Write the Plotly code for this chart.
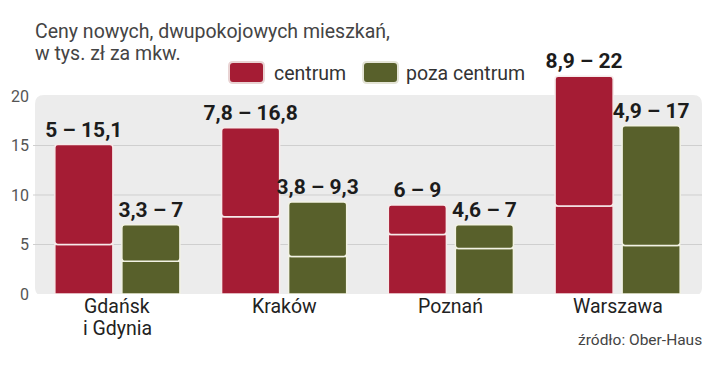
import plotly.graph_objects as go

# ---- data ----
cities = ["Gdańsk i Gdynia", "Kraków", "Poznań", "Warszawa"]
city_lines = [["Gdańsk", "i Gdynia"], ["Kraków"], ["Poznań"], ["Warszawa"]]
centrum_low = [5, 7.8, 6, 8.9]
centrum_high = [15.1, 16.8, 9, 22]
poza_low = [3.3, 3.8, 4.6, 4.9]
poza_high = [7, 9.3, 7, 17]
y_ticks = [0, 5, 10, 15, 20]
grid_vals = [5, 10, 15]

RED = "#a51c34"
OLIVE = "#58602b"
FONT = "Roboto, 'Liberation Sans', sans-serif"
BOLD = "Roboto, 'Liberation Sans', sans-serif"

# ---- geometry ----
WIDTH, HEIGHT = 720, 366
L, R, T, B = 34, 19, 40, 72
PW, PH = WIDTH - L - R, HEIGHT - T - B
PX_PER_UNIT = 9.9
YMAX = PH / PX_PER_UNIT


def fx(p):
    return (p - L) / PW


def fy(p):
    return (T + PH - p) / PH


def fmt(v):
    return ("%g" % v).replace(".", ",")


def label(lo, hi):
    return [f"{fmt(a)} – {fmt(b)}" for a, b in zip(lo, hi)]


fig = go.Figure()


def add_series(name, lo, hi, color, edge, group):
    fig.add_trace(go.Bar(
        x=cities, y=lo, offsetgroup=group, name=name,
        marker=dict(color=color, line=dict(color=edge, width=1.5)),
        showlegend=False, hoverinfo="skip",
    ))
    fig.add_trace(go.Bar(
        x=cities, y=[h - l for l, h in zip(lo, hi)], base=lo,
        offsetgroup=group, name=name,
        marker=dict(color=color, line=dict(color=edge, width=1.5), cornerradius=3),
        text=label(lo, hi), textposition="outside", constraintext="none",
        textfont=dict(family=BOLD, size=21, color="#1c1c1c", weight="bold"),
        cliponaxis=False, showlegend=False, hoverinfo="skip",
    ))


add_series("centrum", centrum_low, centrum_high, RED, "#f6eaea", "c")
add_series("poza centrum", poza_low, poza_high, OLIVE, "#f2f2e4", "p")

shapes = []
# background panel with rounded corners (x in paper, y in data)
rx = 9 / PW
ry = 9 / PX_PER_UNIT
x0, x1 = fx(35), fx(702)
y0, y1 = -0.2, 20.1
panel = (f"M {x0+rx},{y0} L {x1-rx},{y0} Q {x1},{y0} {x1},{y0+ry} "
         f"L {x1},{y1-ry} Q {x1},{y1} {x1-rx},{y1} L {x0+rx},{y1} "
         f"Q {x0},{y1} {x0},{y1-ry} L {x0},{y0+ry} Q {x0},{y0} {x0+rx},{y0} Z")
shapes.append(dict(type="path", path=panel, xref="paper", yref="y",
                   fillcolor="#ececec", line=dict(width=0), layer="below"))
for g in grid_vals:
    shapes.append(dict(type="line", xref="paper", yref="y", x0=fx(33), x1=fx(702),
                       y0=g, y1=g, line=dict(color="#cfcfcf", width=1), layer="below"))


def rrect(px0, py0, px1, py1, r=4):
    a, b, c, d = fx(px0), fy(py0), fx(px1), fy(py1)
    rxx, ryy = r / PW, r / PH
    return (f"M {a+rxx},{b} L {c-rxx},{b} Q {c},{b} {c},{b-ryy} L {c},{d+ryy} "
            f"Q {c},{d} {c-rxx},{d} L {a+rxx},{d} Q {a},{d} {a},{d+ryy} "
            f"L {a},{b-ryy} Q {a},{b} {a+rxx},{b} Z")


# legend swatches
shapes.append(dict(type="path", path=rrect(229, 62, 264, 83), xref="paper", yref="paper",
                   fillcolor=RED, line=dict(color="#e9d3d3", width=2)))
shapes.append(dict(type="path", path=rrect(363, 62, 398, 83), xref="paper", yref="paper",
                   fillcolor=OLIVE, line=dict(color="#e4e4d6", width=2)))


def txt(text, px, py, size, color, anchor="left"):
    return dict(text=text, x=fx(px), y=fy(py), xref="paper", yref="paper",
                xanchor=anchor, yanchor="middle", showarrow=False,
                font=dict(family=FONT, size=size, color=color))


annotations = [
    txt("Ceny nowych, dwupokojowych mieszkań,", 33, 31, 19.5, "#444444"),
    txt("w tys. zł za mkw.", 33, 53, 19.5, "#444444"),
    txt("centrum", 272, 73, 19.5, "#333333"),
    txt("poza centrum", 404, 73, 19.5, "#333333"),
    txt("źródło: Ober-Haus", 704, 340, 15.5, "#444444", "right"),
]
# category labels (two-line label needs tight line spacing)
for cat, lines in zip(cities, city_lines):
    for i, line in enumerate(lines):
        annotations.append(dict(
            text=line, x=cat, y=fy(306 + 22 * i), xref="x", yref="paper",
            xanchor="center", yanchor="middle", showarrow=False,
            font=dict(family=FONT, size=19.5, color="#222222")))

fig.update_layout(
    template="none",
    width=WIDTH, height=HEIGHT,
    margin=dict(l=L, r=R, t=T, b=B, autoexpand=False),
    barmode="group", bargap=0.196, bargroupgap=0.134,
    plot_bgcolor="white", paper_bgcolor="white",
    shapes=shapes, annotations=annotations,
    showlegend=False,
    xaxis=dict(range=[-0.5, 3.5], showgrid=False, zeroline=False, showline=False,
               automargin=False, ticks="", showticklabels=False),
    yaxis=dict(range=[0, YMAX], tickvals=y_ticks, showgrid=False, zeroline=False,
               showline=False, automargin=False, ticks="", ticklabelstandoff=4,
               tickfont=dict(family=FONT, size=16, color="#555555")),
)

fig.write_html("out.html", config={"displayModeBar": False},
               post_script="document.body.style.margin='0';")
